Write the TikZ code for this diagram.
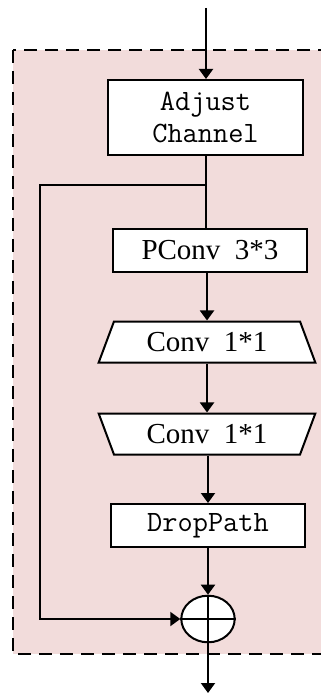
\documentclass[tikz,border=0pt]{standalone}
\usepackage{fontspec}
\newfontfamily\timesfont{Liberation Serif}
\usetikzlibrary{arrows.meta,shapes.geometric}
\definecolor{blockpink}{RGB}{242,220,219}
\begin{document}
\begin{tikzpicture}[x=1pt,y=-1pt,
  boxstyle/.style={draw=black,line width=2pt,fill=white,inner sep=0pt,align=center},
  ttlabel/.style={font=\ttfamily\fontsize{29.5}{32.7}\selectfont},
  rmlabel/.style={font=\timesfont\fontsize{29}{33}\selectfont},
  trapstyle/.style={boxstyle,trapezium,trapezium stretches=true,trapezium angle=63,
     minimum width=217pt,minimum height=41pt},
  conn/.style={line width=2pt,draw=black},
  arr/.style={conn,-{Triangle[width=14pt,length=10pt]}}]
\clip (0,0) rectangle (321,693);
% background block
\draw[fill=blockpink,line width=2pt,dash pattern=on 13pt off 8pt] (13,50) rectangle (345,654);
% nodes
\node[boxstyle,ttlabel,minimum width=195pt,minimum height=75pt] (adjust) at (205.5,117.5) {Adjust\\Channel};
\node[boxstyle,rmlabel,minimum width=194pt,minimum height=43pt] (pconv) at (210,250.5) {PConv\hspace{0.5em}3*3};
\node[trapstyle,rmlabel] (conv1) at (207,342) {Conv\hspace{0.5em}1*1};
\node[trapstyle,rmlabel,shape border rotate=180] (conv2) at (207,434) {Conv\hspace{0.5em}1*1};
\node[boxstyle,ttlabel,minimum width=194pt,minimum height=43pt] (drop) at (208,525.5) {DropPath};
\node[draw=black,line width=2pt,fill=white,ellipse,inner sep=0pt,minimum width=53.4pt,minimum height=46.6pt] (plus) at (208,619) {};
\draw[conn] (plus.north) -- (plus.south) (plus.west) -- (plus.east);
% coordinates
\coordinate (in) at (206,8);
\coordinate (out) at (208,693);
\coordinate (br) at (206,185);
\coordinate (lt) at (40,185);
\coordinate (lb) at (40,619);
% connectors
\draw[arr] (in) -- (in |- adjust.north);
\draw[conn] (adjust.south -| br) -- (br |- pconv.north);
\draw[arr] (br) -- (lt) -- (lb) -- (plus.west);
\draw[arr] (pconv.south -| conv1.north) -- (conv1.north);
\draw[arr] (conv1.south) -- (conv2.north);
\draw[arr] (conv2.south -| drop.north) -- (drop.north);
\draw[arr] (drop.south) -- (plus.north);
\draw[arr] (plus.south) -- (out);
\end{tikzpicture}
\end{document}
